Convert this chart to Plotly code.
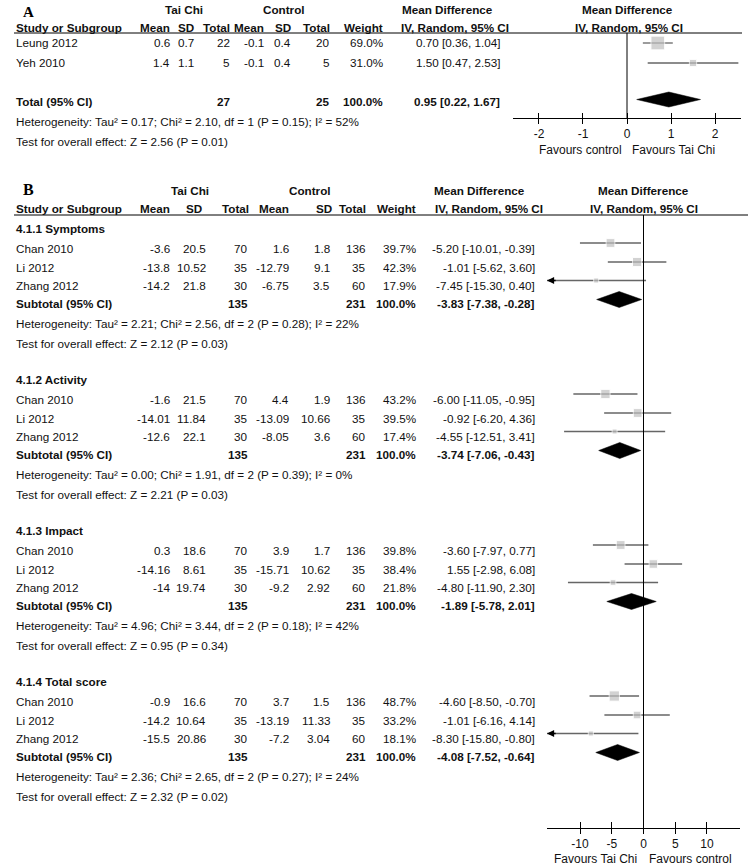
import plotly.graph_objects as go

W, H = 755, 868
FONT = "Liberation Sans, Arial, sans-serif"
SERIF = "Liberation Serif, Times New Roman, serif"
FS = 11.7

# ---------------- Panel A data ----------------
studyA = ["Leung 2012", "Yeh 2010"]
tcMeanA = [0.6, 1.4]
tcSdA = [0.7, 1.1]
tcNA = [22, 5]
cMeanA = [-0.1, -0.1]
cSdA = [0.4, 0.4]
cNA = [20, 5]
weightA = [69.0, 31.0]
mdA = [0.70, 1.50]
loA = [0.36, 0.47]
hiA = [1.04, 2.53]
totTcNA = 27
totCNA = 25
totMdA = 0.95
totLoA = 0.22
totHiA = 1.67
hetA = "Heterogeneity: Tau² = 0.17; Chi² = 2.10, df = 1 (P = 0.15); I² = 52%"
zA = "Test for overall effect: Z = 2.56 (P = 0.01)"
ticksA = [-2, -1, 0, 1, 2]
tickTextA = ["-2", "-1", "0", "1", "2"]

# ---------------- Panel B data ----------------
groupsB = ["4.1.1 Symptoms", "4.1.2 Activity", "4.1.3 Impact", "4.1.4 Total score"]
studyB = ["Chan 2010", "Li 2012", "Zhang 2012"]
tcMeanB = [[-3.6, -13.8, -14.2], [-1.6, -14.01, -12.6], [0.3, -14.16, -14], [-0.9, -14.2, -15.5]]
tcSdB = [[20.5, 10.52, 21.8], [21.5, 11.84, 22.1], [18.6, 8.61, 19.74], [16.6, 10.64, 20.86]]
tcNB = [70, 35, 30]
cMeanB = [[1.6, -12.79, -6.75], [4.4, -13.09, -8.05], [3.9, -15.71, -9.2], [3.7, -13.19, -7.2]]
cSdB = [[1.8, 9.1, 3.5], [1.9, 10.66, 3.6], [1.7, 10.62, 2.92], [1.5, 11.33, 3.04]]
cNB = [136, 35, 60]
weightB = [[39.7, 42.3, 17.9], [43.2, 39.5, 17.4], [39.8, 38.4, 21.8], [48.7, 33.2, 18.1]]
mdB = [[-5.20, -1.01, -7.45], [-6.00, -0.92, -4.55], [-3.60, 1.55, -4.80], [-4.60, -1.01, -8.30]]
loB = [[-10.01, -5.62, -15.30], [-11.05, -6.20, -12.51], [-7.97, -2.98, -11.90], [-8.50, -6.16, -15.80]]
hiB = [[-0.39, 3.60, 0.40], [-0.95, 4.36, 3.41], [0.77, 6.08, 2.30], [-0.70, 4.14, -0.80]]
subTcNB = 135
subCNB = 231
subMdB = [-3.83, -3.74, -1.89, -4.08]
subLoB = [-7.38, -7.06, -5.78, -7.52]
subHiB = [-0.28, -0.43, 2.01, -0.64]
hetB = ["Heterogeneity: Tau² = 2.21; Chi² = 2.56, df = 2 (P = 0.28); I² = 22%",
        "Heterogeneity: Tau² = 0.00; Chi² = 1.91, df = 2 (P = 0.39); I² = 0%",
        "Heterogeneity: Tau² = 4.96; Chi² = 3.44, df = 2 (P = 0.18); I² = 42%",
        "Heterogeneity: Tau² = 2.36; Chi² = 2.65, df = 2 (P = 0.27); I² = 24%"]
zB = ["Test for overall effect: Z = 2.12 (P = 0.03)",
      "Test for overall effect: Z = 2.21 (P = 0.03)",
      "Test for overall effect: Z = 0.95 (P = 0.34)",
      "Test for overall effect: Z = 2.32 (P = 0.02)"]
ticksB = [-10, -5, 0, 5, 10]
tickTextB = ["-10", "-5", "0", "5", "10"]

# ---------------- layout helpers ----------------
anns = []
shapes = []


def txt(x, y, s, anchor="left", bold=False, size=FS, family=FONT, color="#111"):
    anns.append(dict(x=x / W, y=y, xref="paper", yref="y",
                     text=f"<b>{s}</b>" if bold else s,
                     xanchor=anchor, yanchor="middle", showarrow=False,
                     font=dict(family=family, size=size, color=color)))


def num(v):
    return f"{v:g}"


def ci(m, l, h):
    return f"{m:.2f} [{l:.2f}, {h:.2f}]"


def sq_size(w):
    return 2 + 0.17 * w


fig = go.Figure()

# ================= Panel A =================
RA = 2.59
txt(21, 12, "A", bold=True, size=15, family=SERIF, color="black")
txt(184, 9, "Tai Chi", anchor="center", bold=True)
txt(284, 9, "Control", anchor="center", bold=True)
txt(400, 9, "Mean Difference", bold=True)
txt(627, 9, "Mean Difference", anchor="center", bold=True)
hdrY = 27
txt(14, hdrY, "Study or Subgroup", bold=True)
colA = [172, 196, 232, 266, 293, 332, 385]
for x, s in zip(colA, ["Mean", "SD", "Total", "Mean", "SD", "Total", "Weight"]):
    txt(x, hdrY, s, anchor="right", bold=True)
txt(399, hdrY, "IV, Random, 95% CI", bold=True)
txt(629, hdrY, "IV, Random, 95% CI", anchor="center", bold=True)
shapes.append(dict(type="line", xref="paper", yref="y", x0=14 / W, x1=742 / W, y0=33, y1=33,
                   line=dict(color="black", width=1)))

rowYA = [42, 62]
for i in range(len(studyA)):
    y = rowYA[i]
    txt(14, y, studyA[i])
    vals = [num(tcMeanA[i]), num(tcSdA[i]), str(tcNA[i]), num(cMeanA[i]), num(cSdA[i]),
            str(cNA[i]), f"{weightA[i]:.1f}%"]
    for x, s in zip(colA, vals):
        txt(x, y, s, anchor="right")
    txt(502, y, ci(mdA[i], loA[i], hiA[i]), anchor="right")
    fig.add_trace(go.Scatter(x=[loA[i], hiA[i]], y=[y + 1, y + 1], mode="lines",
                             line=dict(color="#666", width=1.3), xaxis="x", yaxis="y",
                             hoverinfo="skip", showlegend=False))
fig.add_trace(go.Scatter(x=mdA, y=[y + 1 for y in rowYA], mode="markers",
                         marker=dict(symbol="square", color="#bfbfbf",
                                     size=[sq_size(w) for w in weightA]),
                         xaxis="x", yaxis="y", hoverinfo="skip", showlegend=False))
totY = 101
txt(14, totY, "Total (95% CI)", bold=True)
txt(colA[2], totY, str(totTcNA), anchor="right", bold=True)
txt(colA[5], totY, str(totCNA), anchor="right", bold=True)
txt(colA[6], totY, "100.0%", anchor="right", bold=True)
txt(502, totY, ci(totMdA, totLoA, totHiA), anchor="right", bold=True)
dy = 99.5
fig.add_trace(go.Scatter(x=[totLoA, totMdA, totHiA, totMdA, totLoA],
                         y=[dy, dy - 7.5, dy, dy + 7.5, dy], mode="lines", fill="toself",
                         fillcolor="black", line=dict(color="black", width=0.5),
                         xaxis="x", yaxis="y", hoverinfo="skip", showlegend=False))
txt(14, 121, hetA)
txt(14, 141, zA)
fig.add_trace(go.Scatter(x=[0, 0], y=[33, 118], mode="lines", line=dict(color="black", width=1),
                         xaxis="x", yaxis="y", hoverinfo="skip", showlegend=False))
txt(580, 150, "Favours control", anchor="center", size=12)
txt(673, 150, "Favours Tai Chi", anchor="center", size=12)

# ================= Panel B =================
RB = 15.2
txt(21, 189, "B", bold=True, size=16, family=SERIF, color="black")
txt(190, 190, "Tai Chi", anchor="center", bold=True)
txt(310, 190, "Control", anchor="center", bold=True)
txt(432, 190, "Mean Difference", bold=True)
txt(643, 190, "Mean Difference", anchor="center", bold=True)
hdrYB = 208
txt(14, hdrYB, "Study or Subgroup", bold=True)
colB = [172, 204, 251, 291, 334, 368, 418]
for x, s in zip(colB, ["Mean", "SD", "Total", "Mean", "SD", "Total", "Weight"]):
    txt(x, hdrYB, s, anchor="right", bold=True)
colBv = [172, 208, 250, 291, 332, 368, 418]
txt(433, hdrYB, "IV, Random, 95% CI", bold=True)
txt(644, hdrYB, "IV, Random, 95% CI", anchor="center", bold=True)
shapes.append(dict(type="line", xref="paper", yref="y", x0=14 / W, x1=748 / W, y0=215, y1=215,
                   line=dict(color="black", width=1)))

groupBase = [228, 379, 530, 681]
offs = [0, 20, 39, 57.5, 75.5, 95.5, 115.5]
FOFF = -5
for g in range(len(groupsB)):
    b = groupBase[g]
    txt(14, b + offs[0], groupsB[g], bold=True)
    ys = []
    for i in range(len(studyB)):
        y = b + offs[1 + i]
        ys.append(y + FOFF)
        txt(14, y, studyB[i])
        vals = [num(tcMeanB[g][i]), num(tcSdB[g][i]), str(tcNB[i]), num(cMeanB[g][i]),
                num(cSdB[g][i]), str(cNB[i]), f"{weightB[g][i]:.1f}%"]
        for x, s in zip(colBv, vals):
            txt(x, y, s, anchor="right")
        txt(537, y, ci(mdB[g][i], loB[g][i], hiB[g][i]), anchor="right")
        fig.add_trace(go.Scatter(x=[loB[g][i], hiB[g][i]], y=[y + FOFF, y + FOFF], mode="lines",
                                 line=dict(color="#666", width=1.3), xaxis="x2", yaxis="y",
                                 hoverinfo="skip", showlegend=False))
        if loB[g][i] < -RB:
            anns.append(dict(x=-RB, y=y + FOFF, xref="x2", yref="y", ax=-RB + 1.6, ay=y + FOFF,
                             axref="x2", ayref="y", showarrow=True, arrowhead=2, arrowsize=1.1,
                             arrowwidth=1.3, arrowcolor="black", text=""))
    fig.add_trace(go.Scatter(x=mdB[g], y=ys, mode="markers",
                             marker=dict(symbol="square", color="#bfbfbf",
                                         size=[sq_size(w) for w in weightB[g]]),
                             xaxis="x2", yaxis="y", hoverinfo="skip", showlegend=False))
    sy = b + offs[4]
    txt(14, sy, "Subtotal (95% CI)", bold=True)
    txt(colBv[2], sy, str(subTcNB), anchor="right", bold=True)
    txt(colBv[5], sy, str(subCNB), anchor="right", bold=True)
    txt(colBv[6], sy, "100.0%", anchor="right", bold=True)
    txt(537, sy, ci(subMdB[g], subLoB[g], subHiB[g]), anchor="right", bold=True)
    dy = sy + FOFF + 1
    fig.add_trace(go.Scatter(x=[subLoB[g], subMdB[g], subHiB[g], subMdB[g], subLoB[g]],
                             y=[dy, dy - 8, dy, dy + 8, dy], mode="lines", fill="toself",
                             fillcolor="black", line=dict(color="black", width=0.5),
                             xaxis="x2", yaxis="y", hoverinfo="skip", showlegend=False))
    txt(14, b + offs[5], hetB[g])
    txt(14, b + offs[6], zB[g])

fig.add_trace(go.Scatter(x=[0, 0], y=[215, 828], mode="lines", line=dict(color="black", width=1),
                         xaxis="x2", yaxis="y", hoverinfo="skip", showlegend=False))
txt(595, 859, "Favours Tai Chi", anchor="center", size=12)
txt(690, 859, "Favours control", anchor="center", size=12)

# helper traces so overlay axes render
fig.add_trace(go.Scatter(x=[None], y=[None], xaxis="x3", yaxis="y", showlegend=False))
fig.add_trace(go.Scatter(x=[None], y=[None], xaxis="x4", yaxis="y", showlegend=False))

domA = [513 / W, 741 / W]
domB = [547 / W, 740 / W]
axis_common = dict(showgrid=False, zeroline=False, fixedrange=True)
fig.update_layout(
    width=W, height=H, margin=dict(l=0, r=0, t=0, b=0, pad=0),
    paper_bgcolor="white", plot_bgcolor="rgba(0,0,0,0)",
    showlegend=False, hovermode=False,
    xaxis=dict(domain=domA, range=[-RA, RA], anchor="free", position=1 - 118 / H,
               showline=True, linecolor="black", linewidth=1, ticks="outside", ticklen=5,
               tickwidth=1, tickcolor="black", tickvals=ticksA, ticktext=tickTextA,
               tickfont=dict(family=FONT, size=12, color="#111"), **axis_common),
    xaxis3=dict(domain=domA, range=[-RA, RA], anchor="free", position=1 - 118 / H,
                overlaying="x", showline=False, ticks="inside", ticklen=5, tickwidth=1,
                tickcolor="black", tickvals=ticksA, showticklabels=False, **axis_common),
    xaxis2=dict(domain=domB, range=[-RB, RB], anchor="free", position=1 - 828 / H,
                showline=True, linecolor="black", linewidth=1, ticks="outside", ticklen=5,
                tickwidth=1, tickcolor="black", tickvals=ticksB, ticktext=tickTextB,
                tickfont=dict(family=FONT, size=12, color="#111"), **axis_common),
    xaxis4=dict(domain=domB, range=[-RB, RB], anchor="free", position=1 - 828 / H,
                overlaying="x2", showline=False, ticks="inside", ticklen=6, tickwidth=1,
                tickcolor="black", tickvals=ticksB, showticklabels=False, **axis_common),
    yaxis=dict(domain=[0, 1], range=[H, 0], visible=False, **axis_common),
    annotations=anns, shapes=shapes,
)

fig.write_html("out.html", config={"displayModeBar": False, "staticPlot": True},
               post_script="document.body.style.margin='0';document.body.style.overflow='hidden';")
